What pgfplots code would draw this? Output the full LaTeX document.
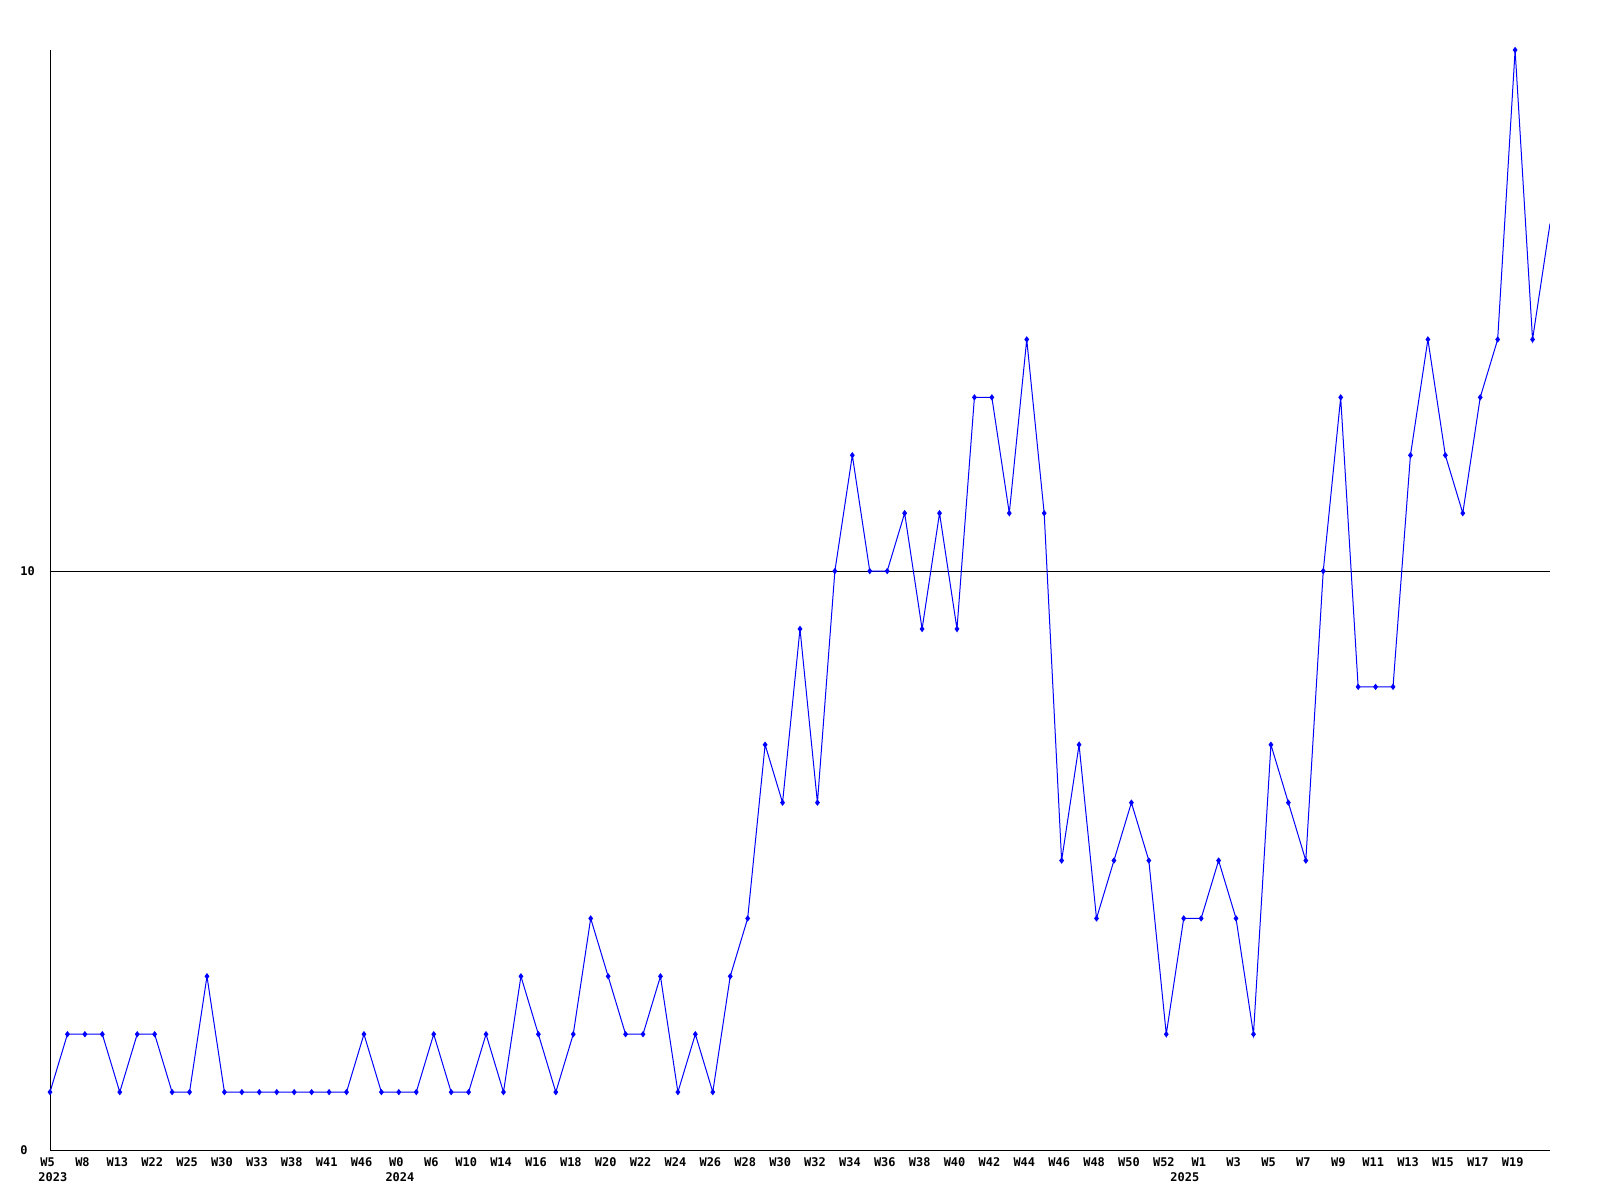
\documentclass[border=0pt]{standalone}
\usepackage{pgfplots}
\pgfplotsset{compat=1.18}
\usepackage{fontspec}
\setmonofont{DejaVu Sans Mono}
\pgfplotstableread{
x y
0 1
1 2
2 2
3 2
4 1
5 2
6 2
7 1
8 1
9 3
10 1
11 1
12 1
13 1
14 1
15 1
16 1
17 1
18 2
19 1
20 1
21 1
22 2
23 1
24 1
25 2
26 1
27 3
28 2
29 1
30 2
31 4
32 3
33 2
34 2
35 3
36 1
37 2
38 1
39 3
40 4
41 7
42 6
43 9
44 6
45 10
46 12
47 10
48 10
49 11
50 9
51 11
52 9
53 13
54 13
55 11
56 14
57 11
58 5
59 7
60 4
61 5
62 6
63 5
64 2
65 4
66 4
67 5
68 4
69 2
70 7
71 6
72 5
73 10
74 13
75 8
76 8
77 8
78 12
79 14
80 12
81 11
82 13
83 14
84 19
85 14
86 16
}\datatable
\begin{document}
\begin{tikzpicture}
\begin{axis}[
  scale only axis, width=750bp, height=550bp,
  xmin=0, xmax=86, ymin=0, ymax=19,
  axis x line*=bottom, axis y line*=left,
  axis line style={-, black, line width=0.5bp},
  xtick={0,2,...,84},
  xticklabels={W5,W8,W13,W22,W25,W30,W33,W38,W41,W46,W0,W6,W10,W14,W16,W18,W20,W22,W24,W26,W28,W30,W32,W34,W36,W38,W40,W42,W44,W46,W48,W50,W52,W1,W3,W5,W7,W9,W11,W13,W15,W17,W19},
  xticklabel style={font=\ttfamily\bfseries\fontsize{6}{7}\selectfont, anchor=north, inner sep=0pt, yshift=-3.8bp, xshift=-1.2bp},
  extra x ticks={0.3,20.2,65.2},
  extra x tick labels={2023,2024,2025},
  extra x tick style={xticklabel style={yshift=-7.4bp}, major tick length=0pt, grid=none},
  ytick={0,10}, yticklabels={0,10},
  yticklabel style={font=\ttfamily\bfseries\fontsize{6}{7}\selectfont, anchor=west, inner sep=0pt, xshift=-15bp},
  ymajorgrids, xmajorgrids=false,
  major grid style={black, line width=0.5bp},
  major tick length=0pt,
  tick style={draw=none},
]
\addplot[blue, line width=0.5bp, mark=diamond*, mark size=1.2bp, mark options={solid, fill=blue},
  mark indices={1,2,3,4,5,6,7,8,9,10,11,12,13,14,15,16,17,18,19,20,21,22,23,24,25,26,27,28,29,30,31,32,33,34,35,36,37,38,39,40,41,42,43,44,45,46,47,48,49,50,51,52,53,54,55,56,57,58,59,60,61,62,63,64,65,66,67,68,69,70,71,72,73,74,75,76,77,78,79,80,81,82,83,84,85,86}]
  table[x=x, y=y] {\datatable};
\end{axis}
\pgfresetboundingbox
\path[use as bounding box] (current axis.south west) ++(-25bp,-25bp) rectangle ++(800bp,600bp);
\end{tikzpicture}
\end{document}
